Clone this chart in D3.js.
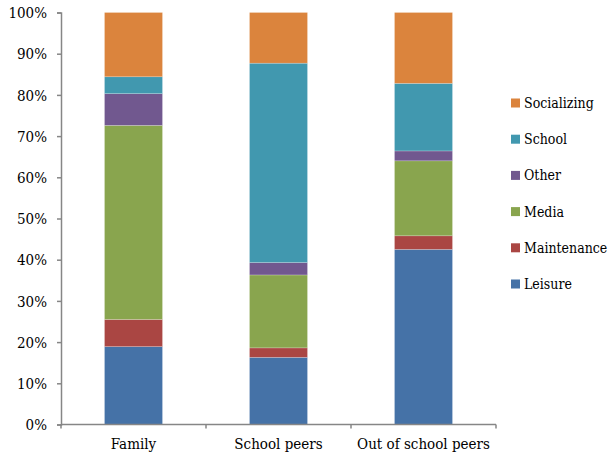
<!DOCTYPE html>
<html>
<head>
<meta charset="utf-8">
<script src="https://cdn.jsdelivr.net/npm/d3@7"></script>
<style>
  html, body { margin: 0; padding: 0; background: #fff; }
</style>
</head>
<body>
<svg id="chart" width="611" height="456"></svg>
<script>
// Categories and stacked series (percent of time), bottom to top
const categories = ["Family", "School peers", "Out of school peers"];
const seriesNames = ["Leisure", "Maintenance", "Media", "Other", "School", "Socializing"];
const leisure     = [18.9, 16.3, 42.5];
const maintenance = [6.6, 2.3, 3.3];
const media       = [47.1, 17.7, 18.2];
const other       = [7.7, 3.0, 2.4];
const school      = [4.1, 48.4, 16.4];
const socializing = [15.6, 12.3, 17.2];
const yTicks = [0, 10, 20, 30, 40, 50, 60, 70, 80, 90, 100];
const colors = ["#4572A7", "#AA4643", "#89A54E", "#71588F", "#4198AF", "#DB843D"];

const FONT = "'DejaVu Serif Condensed', 'DejaVu Serif'";
const FS = 15;
const LEGEND_FS = 14;

const seriesValues = [leisure, maintenance, media, other, school, socializing];
const rows = categories.map((c, i) => {
  const r = { category: c };
  seriesNames.forEach((s, k) => { r[s] = seriesValues[k][i]; });
  return r;
});

const svg = d3.select("#chart").attr("font-family", FONT).style("font-stretch", "condensed");
const x0 = 61, x1 = 496;
const y0 = 424.5, y1 = 12.5;

const x = d3.scaleBand().domain(categories).range([x0, x1]).paddingInner(0.6).paddingOuter(0.3);
const y = d3.scaleLinear().domain([0, 100]).range([y0, y1]);
const color = d3.scaleOrdinal().domain(seriesNames).range(colors);

const stacked = d3.stack().keys(seriesNames)(rows);

// Bars
svg.append("g")
  .selectAll("g")
  .data(stacked)
  .join("g")
  .attr("fill", d => color(d.key))
  .selectAll("rect")
  .data(d => d)
  .join("rect")
  .attr("x", d => x(d.data.category))
  .attr("width", x.bandwidth())
  .attr("y", d => y(d[1]))
  .attr("height", d => y(d[0]) - y(d[1]))
  .attr("stroke", "rgba(255,255,255,0.35)")
  .attr("stroke-width", 0.6);

// Y axis
const yAxis = d3.axisLeft(y).tickValues(yTicks).tickFormat(d => d + "%").tickSize(4).tickSizeOuter(4);
const gy = svg.append("g").attr("transform", `translate(${x0},0)`).call(yAxis)
  .attr("font-family", FONT).attr("font-size", FS);
gy.selectAll("path, line").attr("stroke", "#868686").attr("stroke-width", 1.5);
gy.selectAll("text").attr("x", -14).attr("dy", "0.35em").attr("fill", "#000");

// X axis with ticks between categories
const xLin = d3.scaleLinear().domain([0, categories.length]).range([x0, x1]);
const gx = svg.append("g").attr("transform", `translate(0,${y0})`);
gx.append("line").attr("x1", x0).attr("x2", x1).attr("stroke", "#868686").attr("stroke-width", 1.5);
gx.selectAll("line.tick")
  .data(d3.range(categories.length + 1))
  .join("line")
  .attr("class", "tick")
  .attr("x1", d => xLin(d)).attr("x2", d => xLin(d))
  .attr("y1", 0).attr("y2", 4)
  .attr("stroke", "#868686").attr("stroke-width", 1.5);
gx.selectAll("text")
  .data(categories)
  .join("text")
  .attr("x", d => x(d) + x.bandwidth() / 2)
  .attr("y", 24)
  .attr("text-anchor", "middle")
  .attr("font-size", FS)
  .attr("fill", "#000")
  .text(d => d);

// Legend, top entry is the top of the stack
const legendItems = seriesNames.slice().reverse();
const legend = svg.append("g").attr("transform", "translate(511,103)");
const li = legend.selectAll("g")
  .data(legendItems)
  .join("g")
  .attr("transform", (d, i) => `translate(0,${i * 36.2})`);
li.append("rect").attr("x", 0).attr("y", -4.5).attr("width", 9).attr("height", 9).attr("fill", d => color(d));
li.append("text").attr("x", 13).attr("y", 0).attr("dy", "0.35em").attr("font-size", LEGEND_FS).attr("fill", "#000").text(d => d);
</script>
</body>
</html>
